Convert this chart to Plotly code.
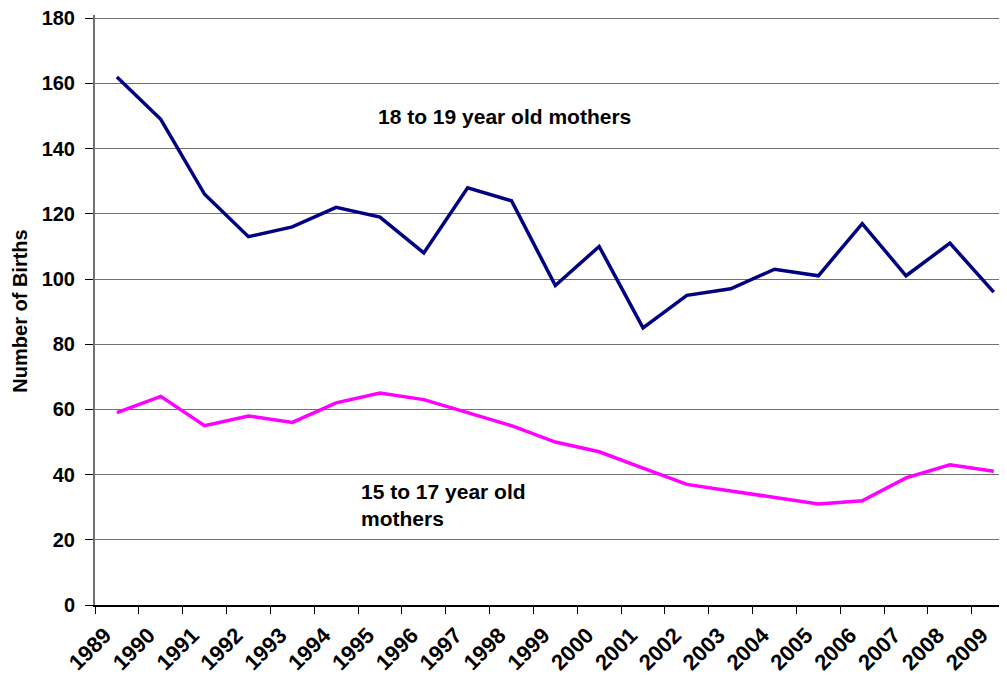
import plotly.graph_objects as go

years = [str(y) for y in range(1989, 2010)]
mothers_18_19 = [162, 149, 126, 113, 116, 122, 119, 108, 128, 124, 98, 110, 85, 95, 97, 103, 101, 117, 101, 111, 96]
mothers_15_17 = [59, 64, 55, 58, 56, 62, 65, 63, 59, 55, 50, 47, 42, 37, 35, 33, 31, 32, 39, 43, 41]
y_ticks = list(range(0, 181, 20))

FONT = "Liberation Sans, Arial, sans-serif"
PLOT_W = 904  # plot width in px

fig = go.Figure()
fig.add_trace(go.Scatter(x=years, y=mothers_18_19, mode="lines",
                         line=dict(color="#000080", width=3.5), name="18 to 19 year old mothers"))
fig.add_trace(go.Scatter(x=years, y=mothers_15_17, mode="lines",
                         line=dict(color="#FF00FF", width=3.5), name="15 to 17 year old mothers"))

ann_font = dict(family=FONT, size=21, color="black", weight="bold")
fig.add_annotation(x=(376 - 95) / PLOT_W, y=150, xref="paper", yref="y",
                   text="18 to 19 year old mothers",
                   showarrow=False, xanchor="left", yanchor="middle", font=ann_font)
fig.add_annotation(x=(359 - 95) / PLOT_W, y=39.0, xref="paper", yref="y",
                   text="15 to 17 year old<br>mothers",
                   showarrow=False, xanchor="left", yanchor="top", align="left", font=ann_font)
fig.add_annotation(x=0.0, y=90, xref="paper", yref="y", text="Number of Births",
                   showarrow=False, xanchor="center", yanchor="middle", textangle=-90,
                   xshift=-75, font=dict(family=FONT, size=20, color="black", weight="bold"))

fig.update_layout(
    width=991, height=669,
    margin=dict(l=87, r=0, t=7, b=72),
    paper_bgcolor="white", plot_bgcolor="white",
    showlegend=False,
    font=dict(family=FONT, color="black"),
)
fig.update_xaxes(type="category", range=[-0.5, 20.12], tickson="boundaries", automargin=False,
                 ticks="outside", ticklen=7, tickcolor="black", tickwidth=1,
                 tickangle=-45, ticklabelshift=-12, ticklabelstandoff=7,
                 ticklabeloverflow="allow",
                 showgrid=False, showline=True,
                 linecolor="black", linewidth=1.5,
                 tickfont=dict(family=FONT, size=22, color="black", weight="bold"))
fig.update_yaxes(range=[0, 181], tickvals=y_ticks, ticks="outside", ticklen=8, automargin=False,
                 ticklabelstandoff=6, ticklabeloverflow="allow",
                 tickcolor="black", showgrid=True, gridcolor="#707070", gridwidth=1,
                 zeroline=False, showline=True, linecolor="#707070", linewidth=2,
                 tickfont=dict(family=FONT, size=20, color="black", weight="bold"))

fig.write_html("out.html")
